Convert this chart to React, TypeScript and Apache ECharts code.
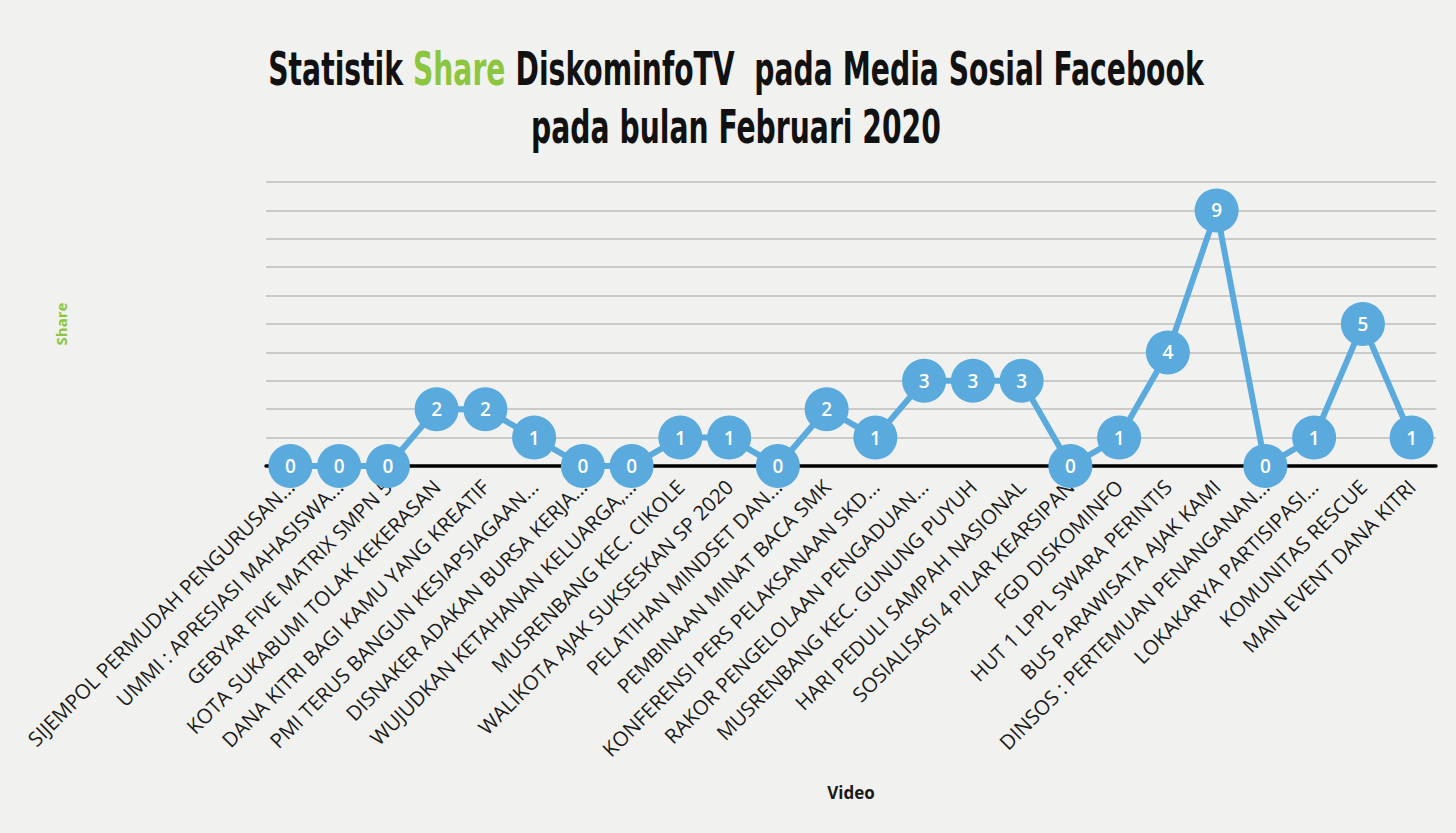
import React, { useEffect, useRef } from "react";
import * as echarts from "echarts";

const categories = [
  "SIJEMPOL PERMUDAH PENGURUSAN...",
  "UMMI : APRESIASI MAHASISWA...",
  "GEBYAR FIVE MATRIX SMPN 5",
  "KOTA SUKABUMI TOLAK KEKERASAN",
  "DANA KITRI BAGI KAMU YANG KREATIF",
  "PMI TERUS BANGUN KESIAPSIAGAAN...",
  "DISNAKER ADAKAN BURSA KERJA...",
  "WUJUDKAN KETAHANAN KELUARGA,...",
  "MUSRENBANG KEC. CIKOLE",
  "WALIKOTA AJAK SUKSESKAN SP 2020",
  "PELATIHAN MINDSET DAN...",
  "PEMBINAAN MINAT BACA SMK",
  "KONFERENSI PERS PELAKSANAAN SKD...",
  "RAKOR PENGELOLAAN PENGADUAN...",
  "MUSRENBANG KEC. GUNUNG PUYUH",
  "HARI PEDULI SAMPAH NASIONAL",
  "SOSIALISASI 4 PILAR KEARSIPAN",
  "FGD DISKOMINFO",
  "HUT 1 LPPL SWARA PERINTIS",
  "BUS PARAWISATA AJAK KAMI",
  "DINSOS : PERTEMUAN PENANGANAN...",
  "LOKAKARYA PARTISIPASI...",
  "KOMUNITAS RESCUE",
  "MAIN EVENT DANA KITRI",
];

const shareValues = [0, 0, 0, 2, 2, 1, 0, 0, 1, 1, 0, 2, 1, 3, 3, 3, 0, 1, 4, 9, 0, 1, 5, 1];

const yMin = 0;
const yMax = 10;
const yInterval = 1;

const titleLine1 = "Statistik {g|Share} DiskominfoTV  pada Media Sosial Facebook";
const titleLine2 = "pada bulan Februari 2020";
const yName = "Share";
const xName = "Video";

export default function App() {
  const ref = useRef<HTMLDivElement>(null);
  useEffect(() => {
    if (!ref.current) return;
    const chart = echarts.init(ref.current, null, { renderer: "svg" });
    const titleFont = "'DejaVu Sans Condensed', 'Liberation Sans', sans-serif";
    chart.setOption({
      animation: false,
      backgroundColor: "#f1f1ef",
      graphic: [
        {
          type: "text",
          x: 736,
          y: 40,
          scaleX: 0.668,
          style: {
            text: titleLine1 + "\n" + titleLine2,
            textAlign: "center",
            fill: "#111",
            font: `bold 47px ${titleFont}`,
            lineHeight: 58,
            rich: {
              g: { fill: "#8cc63f", font: `bold 47px ${titleFont}`, lineHeight: 58 },
            },
          },
        },
      ],
      grid: { left: 266, right: 20, top: 182, bottom: 833 - 466 },
      xAxis: {
        type: "category",
        data: categories,
        boundaryGap: true,
        name: xName,
        nameLocation: "middle",
        nameGap: 318,
        nameTextStyle: { fontFamily: "Open Sans", fontWeight: "bold", fontSize: 17, color: "#1a1a1a" },
        axisLine: { show: true, lineStyle: { color: "#000", width: 3.5 } },
        axisTick: { show: false },
        axisLabel: {
          interval: 0,
          rotate: 45,
          margin: 17,
          fontFamily: "Open Sans",
          fontSize: 20.5,
          color: "#1a1a1a",
        },
      },
      yAxis: {
        type: "value",
        min: yMin,
        max: yMax,
        interval: yInterval,
        name: yName,
        nameLocation: "middle",
        nameGap: 198,
        nameRotate: 90,
        nameTextStyle: { fontFamily: "Open Sans", fontWeight: "bold", fontSize: 15, color: "#8cc63f" },
        axisLine: { show: false },
        axisTick: { show: false },
        axisLabel: { show: false },
        splitLine: { show: true, lineStyle: { color: "#bdbdbb", width: 1.5 } },
      },
      series: [
        {
          type: "line",
          data: shareValues,
          symbol: "circle",
          symbolSize: 44,
          itemStyle: { color: "#5aaade" },
          lineStyle: { color: "#5aaade", width: 6 },
          label: {
            show: true,
            position: "inside",
            color: "#fff",
            fontFamily: "Open Sans",
            fontWeight: 600,
            fontSize: 19,
          },
        },
      ],
    });
    return () => chart.dispose();
  }, []);
  return (
    <div
      ref={ref}
      style={{ position: "fixed", left: 0, top: 0, width: 1456, height: 833 }}
    />
  );
}
